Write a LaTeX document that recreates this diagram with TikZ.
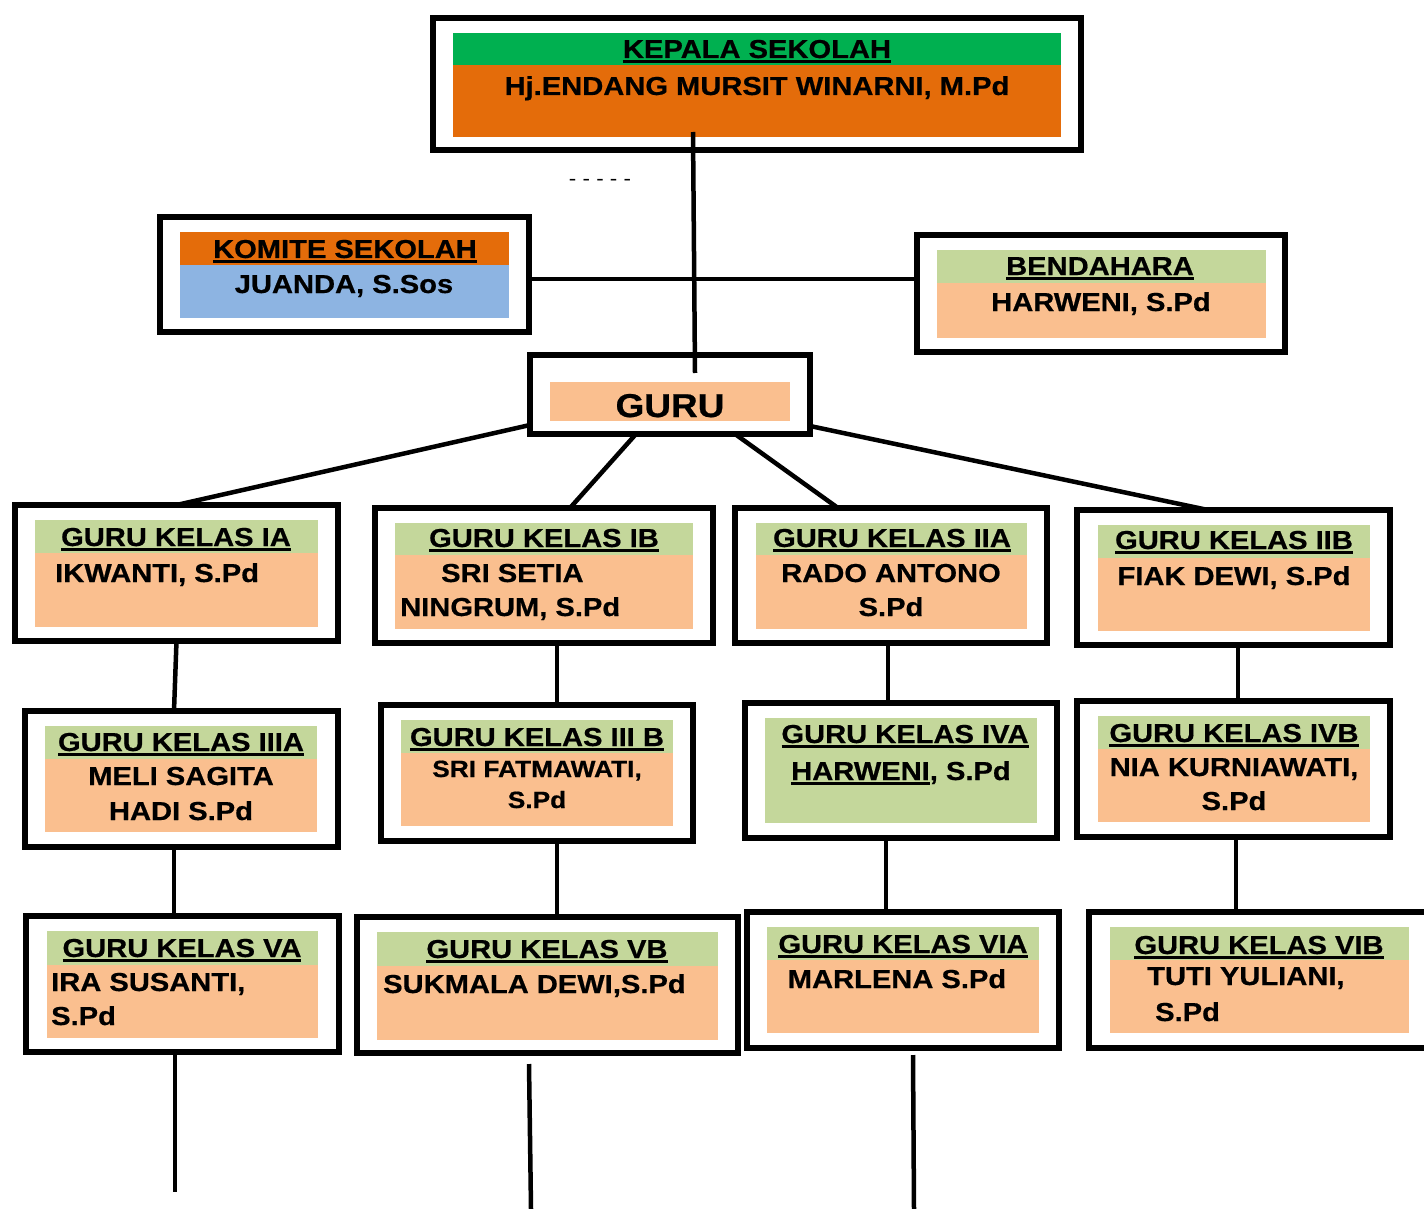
\documentclass[tikz,border=0pt]{standalone}
\usepackage{fontspec}
\setmainfont[FakeStretch=1.12,BoldFeatures={FakeBold=0.6}]{Liberation Sans}
\usepackage{tikz}
\definecolor{kgreen}{HTML}{00B050}
\definecolor{korange}{HTML}{E46C0A}
\definecolor{lgreen}{HTML}{C4D79B}
\definecolor{peach}{HTML}{FABF8F}
\definecolor{lblue}{HTML}{8DB4E2}
\newcommand\ulbox[1]{\setbox0\hbox{#1}\rlap{\rule[-5pt]{\wd0}{3pt}}\box0}

\begin{document}
\begin{tikzpicture}[x=1pt,y=-1pt,
    frame/.style={draw, line width=6pt, anchor=north west, inner sep=0pt, outer sep=0pt},
    ttl/.style={anchor=base, inner sep=0pt, font=\bfseries\fontsize{26}{30}\selectfont},
    sml/.style={anchor=base, inner sep=0pt, font=\bfseries\fontsize{23.5}{28}\selectfont},
    link/.style={line width=4.5pt}]
          \useasboundingbox (0,0) rectangle (1424,1209);

          \fill[kgreen] (453,33) rectangle (1061,65);
          \fill[korange] (453,65) rectangle (1061,137);
          \fill[korange] (180,232) rectangle (509,265);
          \fill[lblue] (180,265) rectangle (509,318);
          \fill[lgreen] (937,250) rectangle (1266,283);
          \fill[peach] (937,283) rectangle (1266,338);
          \fill[peach] (550,382) rectangle (790,421);

          \fill[lgreen] (35,520) rectangle (318,553);
          \fill[peach] (35,553) rectangle (318,627);
          \fill[lgreen] (395,523) rectangle (693,555);
          \fill[peach] (395,555) rectangle (693,629);
          \fill[lgreen] (756,523) rectangle (1027,555);
          \fill[peach] (756,555) rectangle (1027,629);
          \fill[lgreen] (1098,525) rectangle (1370,558);
          \fill[peach] (1098,558) rectangle (1370,631);

          \fill[lgreen] (45,726) rectangle (317,759);
          \fill[peach] (45,759) rectangle (317,832);
          \fill[lgreen] (401,720) rectangle (673,753);
          \fill[peach] (401,753) rectangle (673,826);
          \fill[lgreen] (765,718) rectangle (1037,823);
          \fill[lgreen] (1098,716) rectangle (1370,749);
          \fill[peach] (1098,749) rectangle (1370,822);

          \fill[lgreen] (47,931) rectangle (318,965);
          \fill[peach] (47,965) rectangle (318,1038);
          \fill[lgreen] (377,932) rectangle (718,966);
          \fill[peach] (377,966) rectangle (718,1040);
          \fill[lgreen] (767,927) rectangle (1039,960);
          \fill[peach] (767,960) rectangle (1039,1033);
          \fill[lgreen] (1110,927) rectangle (1409,960);
          \fill[peach] (1110,960) rectangle (1409,1033);

          \node[frame, minimum width=648, minimum height=132] (kepala) at (433,18) {};
          \node[frame, minimum width=369, minimum height=115] (komite) at (160,217) {};
          \node[frame, minimum width=368, minimum height=117] (bendahara) at (917,235) {};
          \node[frame, minimum width=280, minimum height=79] (guru) at (530,355) {};

          \node[frame, minimum width=323, minimum height=136] (ia) at (15,505) {};
          \node[frame, minimum width=338, minimum height=135] (ib) at (375,508) {};
          \node[frame, minimum width=312, minimum height=135] (iia) at (735,508) {};
          \node[frame, minimum width=313, minimum height=135] (iib) at (1077,510) {};

          \node[frame, minimum width=313, minimum height=136] (iiia) at (25,711) {};
          \node[frame, minimum width=312, minimum height=136] (iiib) at (381,705) {};
          \node[frame, minimum width=312, minimum height=135] (iva) at (745,703) {};
          \node[frame, minimum width=313, minimum height=136] (ivb) at (1077,701) {};

          \node[frame, minimum width=313, minimum height=136] (va) at (26,916) {};
          \node[frame, minimum width=381, minimum height=136] (vb) at (357,917) {};
          \node[frame, minimum width=312, minimum height=136] (via) at (747,912) {};
          \node[frame, minimum width=351, minimum height=136] (vib) at (1089,912) {};

          \node[ttl] (kepalat) at (757,58) {\ulbox{KEPALA SEKOLAH}};
          \node[ttl] (kepalan) at (757,95) {Hj.ENDANG MURSIT WINARNI, M.Pd};
          \node[ttl] (komitet) at (345,258) {\ulbox{KOMITE SEKOLAH}};
          \node[ttl] (komiten) at (344,293) {JUANDA, S.Sos};
          \node[ttl] (bendaharat) at (1100,275) {\ulbox{BENDAHARA}};
          \node[ttl] (bendaharan) at (1101,311) {HARWENI, S.Pd};
          \node[ttl, font=\bfseries\fontsize{33}{38}\selectfont] (gurut) at (670,417) {GURU};
          \node[anchor=base, inner sep=0pt, font=\fontsize{20}{24}\selectfont] (dash) at (600,186) {- - - - -};

          \node[ttl] (iat) at (176,546) {\ulbox{GURU KELAS IA}};
          \node[ttl, anchor=base west] (ian) at (55,582) {IKWANTI, S.Pd};
          \node[ttl] (ibt) at (544,547) {\ulbox{GURU KELAS IB}};
          \node[ttl, anchor=base west] (ibn) at (441,582) {SRI SETIA};
          \node[ttl, anchor=base west] (ibm) at (400,616) {NINGRUM, S.Pd};
          \node[ttl] (iiat) at (892,547) {\ulbox{GURU KELAS IIA}};
          \node[ttl] (iian) at (891,582) {RADO ANTONO};
          \node[ttl] (iiam) at (891,616) {S.Pd};
          \node[ttl] (iibt) at (1234,549) {\ulbox{GURU KELAS IIB}};
          \node[ttl] (iibn) at (1234,585) {FIAK DEWI, S.Pd};

          \node[ttl] (iiiat) at (181,751) {\ulbox{GURU KELAS IIIA}};
          \node[ttl] (iiian) at (181,785) {MELI SAGITA};
          \node[ttl] (iiiam) at (181,820) {HADI S.Pd};
          \node[ttl] (iiibt) at (537,746) {\ulbox{GURU KELAS III B}};
          \node[sml] (iiibn) at (537,777) {SRI FATMAWATI,};
          \node[sml] (iiibm) at (537,808) {S.Pd};
          \node[ttl] (ivat) at (905,743) {\ulbox{GURU KELAS IVA}};
          \node[ttl] (ivan) at (901,780) {\ulbox{HARWENI}, S.Pd};
          \node[ttl] (ivbt) at (1234,742) {\ulbox{GURU KELAS IVB}};
          \node[ttl] (ivbn) at (1234,776) {NIA KURNIAWATI,};
          \node[ttl] (ivbm) at (1234,810) {S.Pd};

          \node[ttl] (vat) at (182,957) {\ulbox{GURU KELAS VA}};
          \node[ttl, anchor=base west] (van) at (51,991) {IRA SUSANTI,};
          \node[ttl, anchor=base west] (vam) at (51,1025) {S.Pd};
          \node[ttl] (vbt) at (547,958) {\ulbox{GURU KELAS VB}};
          \node[ttl, anchor=base west] (vbn) at (383,993) {SUKMALA DEWI,S.Pd};
          \node[ttl] (viat) at (903,953) {\ulbox{GURU KELAS VIA}};
          \node[ttl] (vian) at (897,988) {MARLENA S.Pd};
          \node[ttl] (vibt) at (1259,954) {\ulbox{GURU KELAS VIB}};
          \node[ttl, anchor=base west] (vibn) at (1147,985) {TUTI YULIANI,};
          \node[ttl, anchor=base west] (vibm) at (1155,1021) {S.Pd};

          \coordinate (kstem) at (693,132);
          \coordinate (gstem) at (695,373);
          \coordinate (vbtop) at (529,1064);
          \coordinate (viatop) at (913,1055);
          \coordinate (vaend) at (175,1192);
          \coordinate (vbend) at (531,1209);
          \coordinate (viaend) at (914,1209);

          \draw[link] (kstem) -- (gstem);
          \draw[link] (komite.east |- 0,279) -- (bendahara.west |- 0,279);
          \draw[link] (guru.west |- 0,425) -- (ia.north);
          \draw[link] (guru.south -| 636,0) -- (ib.north -| 570,0);
          \draw[link] (guru.south -| 735,0) -- (iia.north -| 838,0);
          \draw[link] (guru.east |- 0,426) -- (iib.north -| 1208,0);

          \draw[link] (ia.south) -- (iiia.north -| 174,0);
          \draw[link] (ib.south -| 557,0) -- (iiib.north -| 557,0);
          \draw[link] (iia.south -| 888,0) -- (iva.north -| 888,0);
          \draw[link] (iib.south -| 1238,0) -- (ivb.north -| 1238,0);

          \draw[link] (iiia.south -| 174,0) -- (va.north -| 174,0);
          \draw[link] (iiib.south -| 557,0) -- (vb.north -| 557,0);
          \draw[link] (iva.south -| 886,0) -- (via.north -| 886,0);
          \draw[link] (ivb.south -| 1236,0) -- (vib.north -| 1236,0);

          \draw[link] (va.south -| 175,0) -- (vaend);
          \draw[link] (vbtop) -- (vbend);
          \draw[link] (viatop) -- (viaend);
        \end{tikzpicture}
\end{document}
